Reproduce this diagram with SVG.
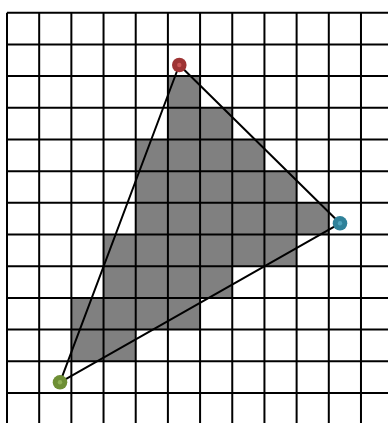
<svg xmlns="http://www.w3.org/2000/svg" width="388" height="423" viewBox="0 0 388 423">
<style>
.cell{fill:#808080;stroke:none}
.grid line{stroke:#000;stroke-width:2}
.edges line{stroke:#000;stroke-width:2;stroke-linecap:round}
.dot-c{fill-opacity:0.5}
</style>
<rect width="388" height="423" fill="#fff"/>
<g id="raster">
<rect class="cell" x="167.9" y="76.08" width="32.18" height="31.69"/>
<rect class="cell" x="167.9" y="107.77" width="64.36" height="31.69"/>
<rect class="cell" x="135.72" y="139.46" width="128.72" height="31.69"/>
<rect class="cell" x="135.72" y="171.15" width="160.9" height="31.69"/>
<rect class="cell" x="135.72" y="202.84" width="193.08" height="31.69"/>
<rect class="cell" x="103.54" y="234.53" width="193.08" height="31.69"/>
<rect class="cell" x="103.54" y="266.22" width="128.72" height="31.69"/>
<rect class="cell" x="71.36" y="297.91" width="128.72" height="31.69"/>
<rect class="cell" x="71.36" y="329.6" width="64.36" height="31.69"/>
</g>
<g id="grid" class="grid">
<line x1="7" y1="12.7" x2="7" y2="423"/>
<line x1="39.18" y1="12.7" x2="39.18" y2="423"/>
<line x1="71.36" y1="12.7" x2="71.36" y2="423"/>
<line x1="103.54" y1="12.7" x2="103.54" y2="423"/>
<line x1="135.72" y1="12.7" x2="135.72" y2="423"/>
<line x1="167.9" y1="12.7" x2="167.9" y2="423"/>
<line x1="200.08" y1="12.7" x2="200.08" y2="423"/>
<line x1="232.26" y1="12.7" x2="232.26" y2="423"/>
<line x1="264.44" y1="12.7" x2="264.44" y2="423"/>
<line x1="296.62" y1="12.7" x2="296.62" y2="423"/>
<line x1="328.8" y1="12.7" x2="328.8" y2="423"/>
<line x1="360.98" y1="12.7" x2="360.98" y2="423"/>
<line x1="7" y1="12.7" x2="388" y2="12.7"/>
<line x1="7" y1="44.39" x2="388" y2="44.39"/>
<line x1="7" y1="76.08" x2="388" y2="76.08"/>
<line x1="7" y1="107.77" x2="388" y2="107.77"/>
<line x1="7" y1="139.46" x2="388" y2="139.46"/>
<line x1="7" y1="171.15" x2="388" y2="171.15"/>
<line x1="7" y1="202.84" x2="388" y2="202.84"/>
<line x1="7" y1="234.53" x2="388" y2="234.53"/>
<line x1="7" y1="266.22" x2="388" y2="266.22"/>
<line x1="7" y1="297.91" x2="388" y2="297.91"/>
<line x1="7" y1="329.6" x2="388" y2="329.6"/>
<line x1="7" y1="361.29" x2="388" y2="361.29"/>
<line x1="7" y1="392.98" x2="388" y2="392.98"/>
</g>
<g id="connectors" class="edges">
<line x1="179.3" y1="65" x2="340" y2="223.3"/>
<line x1="179.3" y1="65" x2="60" y2="382.3"/>
<line x1="340" y1="223.3" x2="60" y2="382.3"/>
</g>
<g id="vertex-a">
<circle cx="179.3" cy="65" r="7.3" fill="#9e3434"/>
<circle cx="179.3" cy="65" r="2.2" fill="#c95555"/>
</g>
<g id="vertex-b">
<circle cx="340" cy="223.3" r="7.3" fill="#2f8199"/>
<circle cx="340" cy="223.3" r="2.2" fill="#4fa3bb"/>
</g>
<g id="vertex-c">
<circle cx="60" cy="382.3" r="7.3" fill="#6e8f35"/>
<circle cx="60" cy="382.3" r="2.2" fill="#8fb055"/>
</g>
</svg>
